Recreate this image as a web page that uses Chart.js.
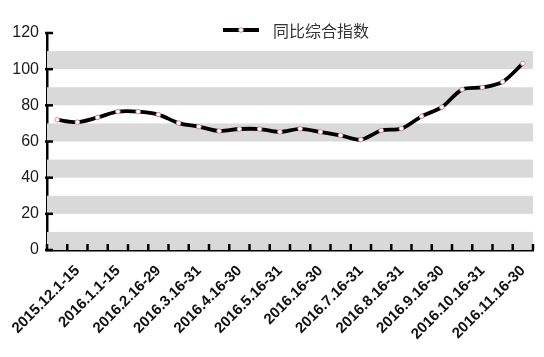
<!DOCTYPE html>
<html>
<head>
<meta charset="utf-8">
<script src="https://cdn.jsdelivr.net/npm/chart.js@4"></script>
<style>
  html, body { margin: 0; padding: 0; background: #ffffff; }
  #wrap { width: 544px; height: 357px; }
</style>
</head>
<body>
<div id="wrap"><canvas id="c" width="544" height="357"></canvas></div>
<script>
// ---- data ----
const seriesName = '同比综合指数';
const tickLabels = ['2015.12.1-15', '2016.1.1-15', '2016.2.16-29', '2016.3.16-31', '2016.4.16-30', '2016.5.16-31',
                    '2016.16-30', '2016.7.16-31', '2016.8.16-31', '2016.9.16-30', '2016.10.16-31', '2016.11.16-30'];
const values = [72.0, 70.7, 73.3, 76.5, 76.5, 74.9, 70.2, 68.2, 65.8, 66.9, 66.9, 65.3,
                67.0, 65.3, 63.4, 61.0, 66.1, 67.1, 73.9, 79.0, 88.8, 89.9, 93.0, 103.2];
const yTicks = [0, 20, 40, 60, 80, 100, 120];
const bandLows = [0, 20, 40, 60, 80, 100];
const bandHighs = [10, 30, 50, 70, 90, 110];

// 24 half-month periods; only every other one carries a label
const categories = values.map((v, i) => (i % 2 === 1 ? tickLabels[(i - 1) / 2] : ''));

const bandPlugin = {
  id: 'bands',
  beforeDatasetsDraw(chart) {
    const { ctx, chartArea, scales } = chart;
    ctx.save();
    ctx.fillStyle = '#d9d9d9';
    bandLows.forEach((lo, i) => {
      const y1 = scales.y.getPixelForValue(bandHighs[i]);
      const y0 = scales.y.getPixelForValue(lo);
      ctx.fillRect(chartArea.left, y1, chartArea.right - chartArea.left, y0 - y1);
    });
    ctx.restore();
  },
  afterDraw(chart) {
    const { ctx, chartArea, scales } = chart;
    ctx.save();
    ctx.strokeStyle = '#000';
    ctx.lineWidth = 2.5;
    // y tick marks (inward)
    yTicks.forEach(v => {
      const y = scales.y.getPixelForValue(v);
      ctx.beginPath();
      ctx.moveTo(chartArea.left - 2, y);
      ctx.lineTo(chartArea.left + 6, y);
      ctx.stroke();
    });
    // x tick marks at category boundaries (inward)
    for (let i = 0; i <= values.length; i++) {
      const x = scales.x.getPixelForValue(i - 0.5);
      ctx.beginPath();
      ctx.moveTo(x, chartArea.bottom);
      ctx.lineTo(x, chartArea.bottom - 6);
      ctx.stroke();
    }
    // legend
    const lx0 = 223, lx1 = 259, ly = 30;
    ctx.lineWidth = 4;
    ctx.beginPath();
    ctx.moveTo(lx0, ly);
    ctx.lineTo(lx1, ly);
    ctx.stroke();
    ctx.beginPath();
    ctx.arc((lx0 + lx1) / 2, ly, 2.3, 0, Math.PI * 2);
    ctx.fillStyle = '#ffffff';
    ctx.fill();
    ctx.lineWidth = 1;
    ctx.strokeStyle = '#d98c9c';
    ctx.stroke();
    ctx.fillStyle = '#333333';
    ctx.font = '16px "Noto Sans CJK SC", sans-serif';
    ctx.textBaseline = 'middle';
    ctx.textAlign = 'left';
    ctx.fillText(chart.data.datasets[0].label, 273, 31);
    ctx.restore();
  }
};

new Chart(document.getElementById('c'), {
  type: 'line',
  data: {
    labels: categories,
    datasets: [{
      label: seriesName,
      data: values,
      borderColor: '#000000',
      borderWidth: 3.8,
      tension: 0.3,
      pointRadius: 2.3,
      pointBackgroundColor: '#ffffff',
      pointBorderColor: '#d98c9c',
      pointBorderWidth: 1,
      fill: false
    }]
  },
  options: {
    responsive: false,
    animation: false,
    devicePixelRatio: 1,
    layout: { padding: { left: 12, right: 11, top: 33, bottom: 7 } },
    plugins: {
      legend: { display: false },
      tooltip: { enabled: false }
    },
    scales: {
      x: {
        type: 'category',
        offset: true,
        grid: { display: false, offset: true },
        border: { display: true, color: '#000', width: 2.5 },
        afterFit(scale) { scale.height = 100; scale.paddingLeft = 0; scale.paddingRight = 0; },
        ticks: {
          autoSkip: false,
          maxRotation: 45,
          minRotation: 45,
          padding: 4,
          color: '#111111',
          font: { family: '"Liberation Sans", Arial, sans-serif', size: 15, weight: 'bold' }
        }
      },
      y: {
        min: 0,
        max: 120,
        grid: { display: false },
        border: { display: true, color: '#000', width: 2.5 },
        afterFit(scale) { scale.width = 35; scale.paddingTop = 0; scale.paddingBottom = 0; },
        ticks: {
          stepSize: 20,
          padding: 0,
          color: '#1a1a1a',
          font: { family: '"Liberation Sans", Arial, sans-serif', size: 16 }
        }
      }
    }
  },
  plugins: [bandPlugin]
});
</script>
</body>
</html>
